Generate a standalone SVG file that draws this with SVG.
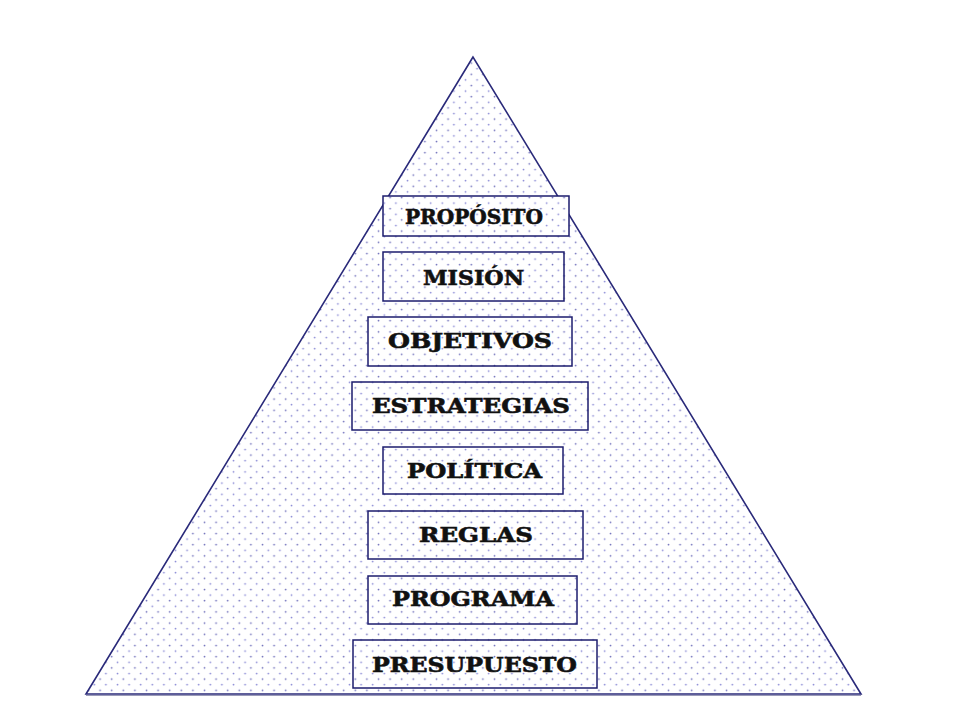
<svg xmlns="http://www.w3.org/2000/svg" width="960" height="720" viewBox="0 0 960 720">
<style>
.box{fill:url(#dots);stroke:#1c1c6e;stroke-width:1.5}
.lbl{font-family:"DejaVu Serif","Liberation Serif",serif;font-weight:bold;fill:#111;stroke:#111;stroke-width:0.6;text-anchor:middle;font-size:21px}
</style>
<defs>
<pattern id="dots" patternUnits="userSpaceOnUse" width="11.6" height="11.2" x="0" y="0">
<rect width="11.6" height="11.2" fill="#ffffff"/>
<circle cx="1.5" cy="1.5" r="0.9" fill="#8484d4"/>
<circle cx="7.3" cy="7.1" r="0.9" fill="#6a6ab8"/>
</pattern>
</defs>
<rect width="960" height="720" fill="#ffffff"/>
<g id="pyramid">
<polygon points="473,57 86,694 861,694" fill="url(#dots)" stroke="#2a2a7a" stroke-width="1.6" stroke-linejoin="miter"/>
<line x1="86" y1="695.5" x2="861" y2="695.5" stroke="#9a9ab8" stroke-width="1.2"/>
</g>
<g id="proposito"><rect class="box" x="383" y="196" width="186" height="40"/><text class="lbl" x="474" y="224" font-size="19" textLength="138" lengthAdjust="spacingAndGlyphs">PROPÓSITO</text></g>
<g id="mision"><rect class="box" x="383" y="252" width="181" height="49"/><text class="lbl" x="473.5" y="285" font-size="23" textLength="101" lengthAdjust="spacingAndGlyphs">MISIÓN</text></g>
<g id="objetivos"><rect class="box" x="368" y="317" width="204" height="49"/><text class="lbl" x="470" y="348" textLength="164" lengthAdjust="spacingAndGlyphs">OBJETIVOS</text></g>
<g id="estrategias"><rect class="box" x="352" y="382" width="236" height="48"/><text class="lbl" x="471" y="413" textLength="198" lengthAdjust="spacingAndGlyphs">ESTRATEGIAS</text></g>
<g id="politica"><rect class="box" x="383" y="447" width="180" height="47"/><text class="lbl" x="474.5" y="478" textLength="135" lengthAdjust="spacingAndGlyphs">POLÍTICA</text></g>
<g id="reglas"><rect class="box" x="368" y="511" width="215" height="48"/><text class="lbl" x="476" y="542" textLength="114" lengthAdjust="spacingAndGlyphs">REGLAS</text></g>
<g id="programa"><rect class="box" x="368" y="576" width="209" height="48"/><text class="lbl" x="473" y="606" textLength="162" lengthAdjust="spacingAndGlyphs">PROGRAMA</text></g>
<g id="presupuesto"><rect class="box" x="353" y="640" width="244" height="48"/><text class="lbl" x="474.5" y="672" textLength="205" lengthAdjust="spacingAndGlyphs">PRESUPUESTO</text></g>
<g id="connectors"/>
</svg>
